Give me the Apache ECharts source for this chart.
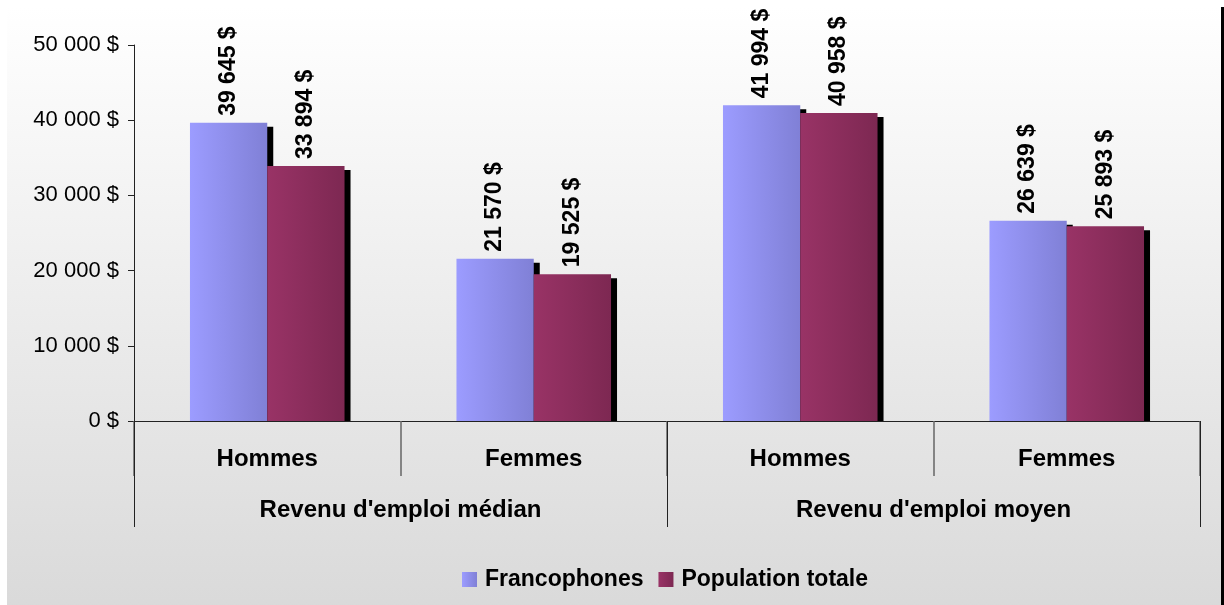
<!DOCTYPE html>
<html><head><meta charset="utf-8">
<script src="https://cdn.jsdelivr.net/npm/echarts@6/dist/echarts.min.js"></script>
<style>html,body{margin:0;padding:0;background:#fff}#c{width:1224px;height:605px}</style>
</head><body><div id="c"></div>
<script>
const categories = ['Hommes', 'Femmes', 'Hommes', 'Femmes'];
const groups = ["Revenu d'emploi médian", "Revenu d'emploi moyen"];
const francophones = [39645, 21570, 41994, 26639];
const populationTotale = [33894, 19525, 40958, 25893];
const seriesNames = ['Francophones', 'Population totale'];
const yTicks = [0, 10000, 20000, 30000, 40000, 50000];

function fmt(v) {
  return String(Math.round(v)).replace(/\B(?=(\d{3})+(?!\d))/g, ' ') + ' $';
}
const FONT = '"Liberation Sans", Arial, sans-serif';
const GAP = 0.42;
function grad(a, b) {
  return new echarts.graphic.LinearGradient(0, 0, 1, 0, [{offset: 0, color: a}, {offset: 1, color: b}]);
}
const shadowData = [];
[francophones, populationTotale].forEach((arr, s) => arr.forEach((v, i) => shadowData.push([i, v, s])));

const chart = echarts.init(document.getElementById('c'), null, {renderer: 'canvas'});
const labelCfg = {
  show: true, position: 'top', rotate: 90, align: 'left', verticalAlign: 'middle',
  distance: 7, fontFamily: FONT, fontWeight: 'bold', fontSize: 23, color: '#000',
  formatter: p => fmt(p.value)
};
chart.setOption({
  animation: false,
  graphic: [
    {type: 'rect', z: -10, shape: {x: 1221, y: 7, width: 10, height: 610}, style: {fill: '#000'}},
    {type: 'rect', z: -10, shape: {x: 7, y: 7, width: 1214, height: 610},
     style: {fill: new echarts.graphic.LinearGradient(0, 0, 0, 1, [{offset: 0, color: '#ffffff'}, {offset: 1, color: '#d9d9d9'}])}}
  ],
  grid: {left: 134, right: 24, top: 45, bottom: 184, containLabel: false},
  legend: {
    left: 462, top: 568, padding: 0, itemWidth: 15, itemHeight: 15, itemGap: 15,
    icon: 'rect',
    textStyle: {fontFamily: FONT, fontWeight: 'bold', fontSize: 23, color: '#000', padding: [0, 0, 0, 3]},
    itemStyle: {shadowBlur: 0, shadowOffsetX: 0, shadowOffsetY: 0, shadowColor: 'rgba(0,0,0,0)'},
    data: seriesNames
  },
  xAxis: [
    {type: 'category', data: categories, position: 'bottom',
     axisLine: {show: true, lineStyle: {color: '#222', width: 1}},
     axisTick: {show: true, interval: 0, length: 55, lineStyle: {color: '#666', width: 1.5}},
     axisLabel: {interval: 0, margin: 26, fontFamily: FONT, fontWeight: 'bold', fontSize: 24, color: '#000'}},
    {type: 'category', data: groups, position: 'bottom', offset: 0,
     axisLine: {show: false},
     axisTick: {show: true, interval: 0, length: 106, lineStyle: {color: '#222', width: 1}},
     axisLabel: {interval: 0, margin: 77, fontFamily: FONT, fontWeight: 'bold', fontSize: 24, color: '#000'}}
  ],
  yAxis: {
    type: 'value', min: yTicks[0], max: yTicks[yTicks.length - 1], interval: 10000,
    axisLine: {show: true, lineStyle: {color: '#222'}},
    axisTick: {show: true, length: 6, lineStyle: {color: '#222'}},
    splitLine: {show: false},
    axisLabel: {margin: 15, fontFamily: FONT, fontSize: 22, color: '#000', formatter: v => fmt(v)}
  },
  series: [
    {type: 'custom', z: 1, silent: true, data: shadowData, xAxisIndex: 0,
     renderItem: (params, api) => {
       const top = api.coord([api.value(0), api.value(1)]);
       const base = api.coord([api.value(0), 0]);
       const cw = api.size([1, 0])[0];
       const bw = cw * (1 - GAP) / 2;
       const left = top[0] - bw + api.value(2) * bw;
       return {type: 'rect', shape: {x: left + 6, y: top[1] + 4, width: bw, height: base[1] - top[1] - 4},
               style: {fill: '#000'}};
     }},
    {name: seriesNames[0], type: 'bar', z: 2, data: francophones, barGap: '0%', barCategoryGap: '42%',
     itemStyle: {color: grad('#9c9cff', '#8080d6')}, label: labelCfg},
    {name: seriesNames[1], type: 'bar', z: 2, data: populationTotale, barGap: '0%', barCategoryGap: '42%',
     itemStyle: {color: grad('#993366', '#7d2852')}, label: labelCfg}
  ]
});
</script></body></html>
